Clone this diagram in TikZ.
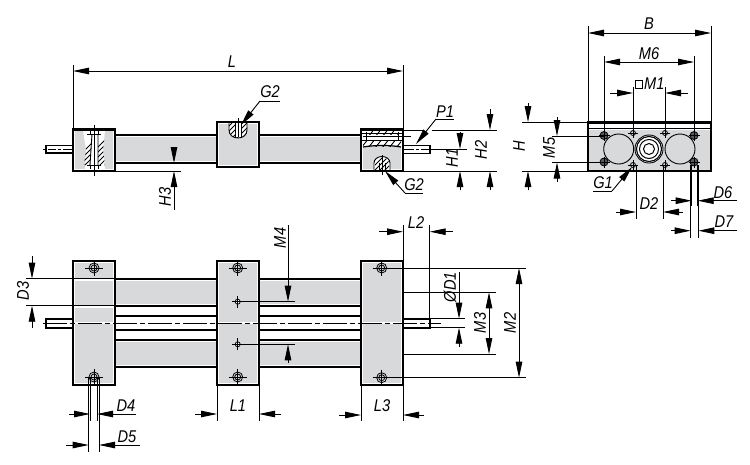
\documentclass[tikz,border=0pt]{standalone}
\usepackage{fontspec}
\setmainfont[FakeStretch=0.86]{Liberation Sans}
\usetikzlibrary{arrows.meta}
\definecolor{part}{HTML}{D8D9DA}
\tikzset{
  >={Triangle[length=16pt,width=6.5pt]},
  thinl/.style={line width=0.9pt,black},
  thickl/.style={line width=2.2pt,black},
  lab/.style={inner sep=0pt,font=\fontsize{17}{18}\selectfont\itshape},
  ar/.style={thinl,->},
  arr/.style={thinl,<->},
  cut/.style={line width=0.9pt},
  cen/.style={line width=0.9pt,dash pattern=on 24pt off 3pt on 5pt off 3pt}
}
\newcommand{\bighole}[2]{%
  \draw[line width=0.8pt,fill=part] (#1,#2) circle (5);
  \draw[line width=0.8pt] (#1,#2) circle (3);
  \draw[line width=0.8pt] (#1-9,#2) -- (#1+9,#2) (#1,#2-8) -- (#1,#2+8);}
\newcommand{\smallhole}[2]{%
  \draw[line width=0.8pt,fill=white] (#1,#2) circle (2.5);
  \draw[line width=0.8pt] (#1-6,#2) -- (#1+6,#2) (#1,#2-6) -- (#1,#2+6);}
\newcommand{\darkhole}[2]{%
  \draw[line width=0.8pt,fill=black!65] (#1,#2) circle (4);
  \draw[line width=0.6pt] (#1-5.5,#2) -- (#1+5.5,#2) (#1,#2-5.5) -- (#1,#2+5.5);}
\newcommand{\tinyhole}[2]{%
  \draw[line width=0.8pt,fill=part] (#1,#2) circle (2.5);
  \draw[line width=0.6pt] (#1-5,#2) -- (#1+5,#2) (#1,#2-5) -- (#1,#2+5);}
\begin{document}
\begin{tikzpicture}[x=1pt,y=-1pt]
\useasboundingbox (0,0) rectangle (750,464);
\fill[white] (0,0) rectangle (750,464);
% ===== side view =====
\fill[part] (116,137) rectangle (216,161);
\fill[part] (260,137) rectangle (360,161);
\draw[thickl] (115,135) -- (217,135) (115,163) -- (217,163) (259,135) -- (361,135) (259,163) -- (361,163);
\draw[thinl] (115,171) -- (181,171);
% rods
\draw[line width=1.6pt,fill=white] (46,145.5) rectangle (73,153);
\draw[line width=1.6pt,fill=white] (403,145.5) rectangle (430,153.5);
\draw[thinl] (43,149.5) -- (46,149.5) (48,149.5) -- (56,149.5) (58,149.5)--(61,149.5) (63,149.5) -- (72,149.5);
\draw[thinl] (404,149.5) -- (414,149.5) (416,149.5)--(419,149.5) (421,149.5) -- (429,149.5);
% left block with section
\fill[part] (75,131) rectangle (113,169);
\fill[white] (83,130) -- (105,130) -- (103,150) -- (105,170) -- (85,170) -- (86,150) -- cycle;
\begin{scope}
  \clip (84,134) -- (92,134) -- (90,165) -- (84,165) -- (86,150) -- cycle;
  \foreach \h in {60,65,...,120}{\draw[cut] (\h,175) -- (\h+50,125);}
\end{scope}
\begin{scope}
  \clip (98,134) -- (105,134) -- (103,150) -- (105,165) -- (98,165) -- cycle;
  \foreach \h in {70,75,...,130}{\draw[cut] (\h,175) -- (\h+50,125);}
\end{scope}
\draw[cut] (87,134) -- (101,134) (87,165) -- (101,165) (90,131) -- (90,134) (98,131) -- (98,134) (90,165) -- (90,169) (98,165) -- (98,169);
\draw[cut] (92,134) -- (90,165) (98,134) -- (98,165);
\draw[thinl] (94,125) -- (94,176);
\draw[thickl] (73,129.5) rectangle (115,171);
% middle block
\fill[part] (219,124) rectangle (257,165);
\fill[white] (229,123) -- (247,123) -- (247,130) .. controls (247,135) and (243,138) .. (238,138) .. controls (233,138) and (229,135) .. (229,130) -- cycle;
\begin{scope}
  \clip (229,123) -- (247,123) -- (247,130) .. controls (247,135) and (243,138) .. (238,138) .. controls (233,138) and (229,135) .. (229,130) -- cycle;
  \foreach \h in {200,205,...,250}{\draw[cut] (\h,140) -- (\h+20,120);}
  \fill[white] (235,123) rectangle (241,137);
\end{scope}
\draw[cut] (229,123) -- (229,130) .. controls (229,135) and (233,138) .. (238,138) .. controls (243,138) and (247,135) .. (247,130) -- (247,123);
\draw[thinl] (238,118) -- (238,137) (235,123) -- (235,137) (241,123) -- (241,137);
\draw[thickl] (217,122) rectangle (259,167);
% right block with section
\fill[part] (363,147) .. controls (375,145) and (390,145) .. (401,147) -- (401,169) -- (363,169) -- cycle;
\begin{scope}
  \clip (366,130) rectangle (398,134);
  \foreach \h in {340,347,...,410}{\draw[cut] (\h,137) -- (\h+8,127);}
\end{scope}
\begin{scope}
  \clip (363,140) rectangle (401,146.5);
  \foreach \h in {340,347,...,410}{\draw[cut] (\h,148) -- (\h+8,138);}
\end{scope}
\draw[cut] (361,133) -- (403,133) (361,140.5) -- (403,140.5) (366,132) -- (366,141) (398,132) -- (398,141);
\draw[line width=1.2pt] (363,147) .. controls (375,145) and (390,145) .. (401,147);
\draw[thinl] (363,136.5) -- (411,136.5);
\fill[white] (374,171) -- (374,163) .. controls (374,159) and (378,156.5) .. (382,156.5) .. controls (386,156.5) and (390,159) .. (390,163) -- (390,171) -- cycle;
\begin{scope}
  \clip (375,171) -- (375,163) .. controls (375,160) and (378,157.5) .. (382,157.5) .. controls (386,157.5) and (389,160) .. (389,163) -- (389,171) -- cycle;
  \foreach \h in {360,365,...,395}{\draw[cut] (\h,175) -- (\h+18,157);}
\end{scope}
\draw[cut] (374,171) -- (374,163) .. controls (374,159) and (378,156.5) .. (382,156.5) .. controls (386,156.5) and (390,159) .. (390,163) -- (390,171);
\draw[thinl] (382,155) -- (382,175) (379,163) -- (379,171) (385,163) -- (385,171);
\draw[thickl] (361,129.5) rectangle (403,171);
% dim L
\coordinate (La) at (73,71); \coordinate (Lb) at (403,71);
\draw[thinl] (73,65) -- (73,129) (403,65) -- (403,129);
\draw[arr] (La) -- (Lb);
\node[lab] (tL) at (232,62) {L};
% H3
\coordinate (H3a) at (174,147); \coordinate (H3b) at (174,163);
\coordinate (H3c) at (174,210); \coordinate (H3d) at (174,171);
\draw[ar] (H3a) -- (H3b); \draw[ar] (H3c) -- (H3d);
\node[lab,rotate=90] (tH3) at (165,197) {H3};
% G2 top
\node[lab] (tG2a) at (270,92) {G2};
\coordinate (g2a1) at (280,101); \coordinate (g2a2) at (260,101); \coordinate (g2a3) at (241,125);
\draw[thinl] (g2a1) -- (g2a2); \draw[ar] (g2a2) -- (g2a3);
% G2 right
\node[lab] (tG2b) at (414,185) {G2};
\coordinate (g2b1) at (423,193); \coordinate (g2b2) at (405,193); \coordinate (g2b3) at (385,171);
\draw[thinl] (g2b1) -- (g2b2); \draw[ar] (g2b2) -- (g2b3);
% P1
\node[lab] (tP1) at (445,112) {P1};
\coordinate (p1) at (454,119); \coordinate (p2) at (436,119); \coordinate (p3) at (416,144);
\draw[thinl] (p1) -- (p2); \draw[ar] (p2) -- (p3);
% H1, H2
\draw[thinl] (403,130) -- (424,130) (432,130) -- (497,130) (403,171) -- (497,171) (430,149) -- (467,149);
\draw[ar] (460,132) -- (460,149); \draw[ar] (460,190) -- (460,171);
\node[lab,rotate=90] (tH1) at (452,158) {H1};
\draw[ar] (490,109) -- (490,130); \draw[ar] (490,190) -- (490,171);
\node[lab,rotate=90] (tH2) at (481,150) {H2};
% ===== end view =====
\fill[part] (589,130) rectangle (710,170);
\draw[thickl] (588,122.5) rectangle (711,171);
\draw[line width=1.6pt] (588,128.5) -- (711,128.5);
\draw[line width=0.9pt,fill=part] (618.7,149) circle (15);
\draw[line width=0.9pt,fill=part] (680,149) circle (15);
\draw[line width=0.9pt,fill=white] (649,149) circle (14);
\draw[line width=1.1pt] (649,149) circle (12.5);
\draw[line width=1pt] (649,149) circle (9.5);
\draw[line width=1pt] (649,149) circle (5.5);
\darkhole{604}{135.5}\darkhole{604}{162}\darkhole{694}{135.5}\darkhole{694}{162}
\tinyhole{633}{133}\tinyhole{665}{133}\tinyhole{633}{165}\tinyhole{665}{165}
\draw[thinl] (588,26) -- (588,122) (711,26) -- (711,122);
\draw[arr] (588,33) -- (711,33);
\node[lab] (tB) at (649,24) {B};
\draw[thinl] (604,56) -- (604,133) (694,56) -- (694,133);
\draw[arr] (604,62) -- (694,62);
\node[lab] (tM6) at (649,54) {M6};
\draw[thinl] (633,87) -- (633,130) (665,87) -- (665,130);
\draw[ar] (610,93) -- (633,93); \draw[ar] (688,93) -- (665,93);
\draw[thinl] (635,80.5) rectangle (642.5,88);
\node[lab,anchor=west] (tM1) at (644,84) {M1};
\draw[thinl] (522,122) -- (588,122) (522,171) -- (588,171) (552,136) -- (604,136) (552,162.5) -- (604,162.5);
\draw[ar] (528,103) -- (528,122); \draw[ar] (528,190) -- (528,171);
\node[lab,rotate=90] (tH) at (519,146) {H};
\draw[ar] (557,117) -- (557,136); \draw[ar] (557,182) -- (557,162.5);
\node[lab,rotate=90] (tM5) at (549,148) {M5};
\node[lab] (tG1) at (603,183) {G1};
\coordinate (g1a) at (593,191); \coordinate (g1b) at (612,191); \coordinate (g1c) at (632,167);
\draw[thinl] (g1a) -- (g1b); \draw[ar] (g1b) -- (g1c);
\draw[thinl] (636,165) -- (636,219) (663,165) -- (663,219);
\draw[ar] (616,212) -- (636,212); \draw[ar] (683,212) -- (663,212);
\node[lab] (tD2) at (649,204) {D2};
\draw[line width=1pt] (691.7,165) -- (691.7,206) (697.7,165) -- (697.7,206);
\draw[ar] (671,200.7) -- (691.7,200.7); \draw[ar] (737,200.7) -- (697.7,200.7);
\node[lab] (tD6) at (723,193) {D6};
\draw[thinl] (690.7,165) -- (690.7,238) (698.3,165) -- (698.3,238);
\draw[ar] (671,230.7) -- (690.7,230.7); \draw[ar] (737,230.7) -- (698.3,230.7);
\node[lab] (tD7) at (724,222) {D7};
% ===== plan view =====
\fill[part] (116,281) rectangle (216,304);
\fill[part] (116,342) rectangle (216,365);
\fill[part] (260,281) rectangle (360,304);
\fill[part] (260,342) rectangle (360,365);
\fill[part] (75,263) rectangle (113,383);
\fill[part] (219,263) rectangle (257,383);
\fill[part] (363,263) rectangle (401,383);
\foreach \ya in {278.7,305.7,316,330,340,367}{
  \draw[thickl] (115,\ya) -- (217,\ya) (259,\ya) -- (361,\ya);}
\draw[line width=1.6pt,fill=white] (46,319) rectangle (73,327.7);
\draw[line width=1.6pt,fill=white] (403,318.7) rectangle (430,327.7);
\draw[white,line width=2pt] (74,280) -- (114,280) (74,307) -- (114,307);
\draw[white,line width=2pt] (74,323) -- (114,323) (218,323) -- (258,323) (362,323) -- (402,323);
\draw[thinl] (26,278.7) -- (115,278.7) (26,305.7) -- (115,305.7);
\draw[cen] (43,323) -- (441,323);
\draw[thickl] (73,261) rectangle (115,385);
\draw[thickl] (217,261) rectangle (259,385);
\draw[thickl] (361,261) rectangle (403,385);
\bighole{94}{268}\bighole{94}{377}\bighole{237.7}{268}\bighole{237.7}{377}
\bighole{381.7}{268}\bighole{381.7}{377.7}
\smallhole{237.7}{301.7}\smallhole{237.7}{344.3}
% D3
\draw[ar] (32,256) -- (32,278.7); \draw[ar] (32,328) -- (32,305.7);
\node[lab,rotate=90] (tD3) at (23,291) {D3};
% D4 D5
\draw[thinl] (90,377) -- (90,421) (97,377) -- (97,421);
\draw[ar] (69,414) -- (90,414); \draw[ar] (136,414) -- (97,414);
\node[lab] (tD4) at (126,406) {D4};
\draw[thinl] (88.7,377) -- (88.7,452) (99,377) -- (99,452);
\draw[ar] (66,445) -- (88.7,445); \draw[ar] (140,445) -- (99,445);
\node[lab] (tD5) at (127,437) {D5};
% L1
\draw[thinl] (217,385) -- (217,421) (259,385) -- (259,421);
\draw[ar] (195,414) -- (217,414); \draw[ar] (281,414) -- (259,414);
\node[lab] (tL1) at (238,406) {L1};
% M4
\draw[thinl] (237.7,301.7) -- (295,301.7) (237.7,344.3) -- (295,344.3);
\draw[ar] (288,225) -- (288,301.7); \draw[ar] (288,363) -- (288,344.3);
\node[lab,rotate=90] (tM4) at (280,238) {M4};
% L2
\draw[thinl] (403,225) -- (403,261) (429.7,225) -- (429.7,319);
\draw[ar] (379,231.7) -- (403,231.7); \draw[ar] (452.7,231.7) -- (429.7,231.7);
\node[lab] (tL2) at (416,223) {L2};
% L3
\draw[thinl] (361,385) -- (361,421) (403,385) -- (403,421);
\draw[ar] (339,415) -- (361,415); \draw[ar] (424,415) -- (403,415);
\node[lab] (tL3) at (382,406) {L3};
% D1
\draw[thinl] (430,318.7) -- (465,318.7) (430,327.7) -- (465,327.7);
\draw[ar] (459,271.7) -- (459,318.7); \draw[ar] (459,347) -- (459,327.7);
\node[lab,rotate=90] (tD1) at (450,287) {ØD1};
% M3
\draw[thinl] (403,292.3) -- (495.7,292.3) (403,354) -- (495.7,354);
\draw[arr] (489,292.3) -- (489,354);
\node[lab,rotate=90] (tM3) at (480,323) {M3};
% M2
\draw[thinl] (381.7,268) -- (526,268) (381.7,377.7) -- (526,377.7);
\draw[arr] (519,268) -- (519,377.7);
\node[lab,rotate=90] (tM2) at (510,323) {M2};
\end{tikzpicture}
\end{document}
